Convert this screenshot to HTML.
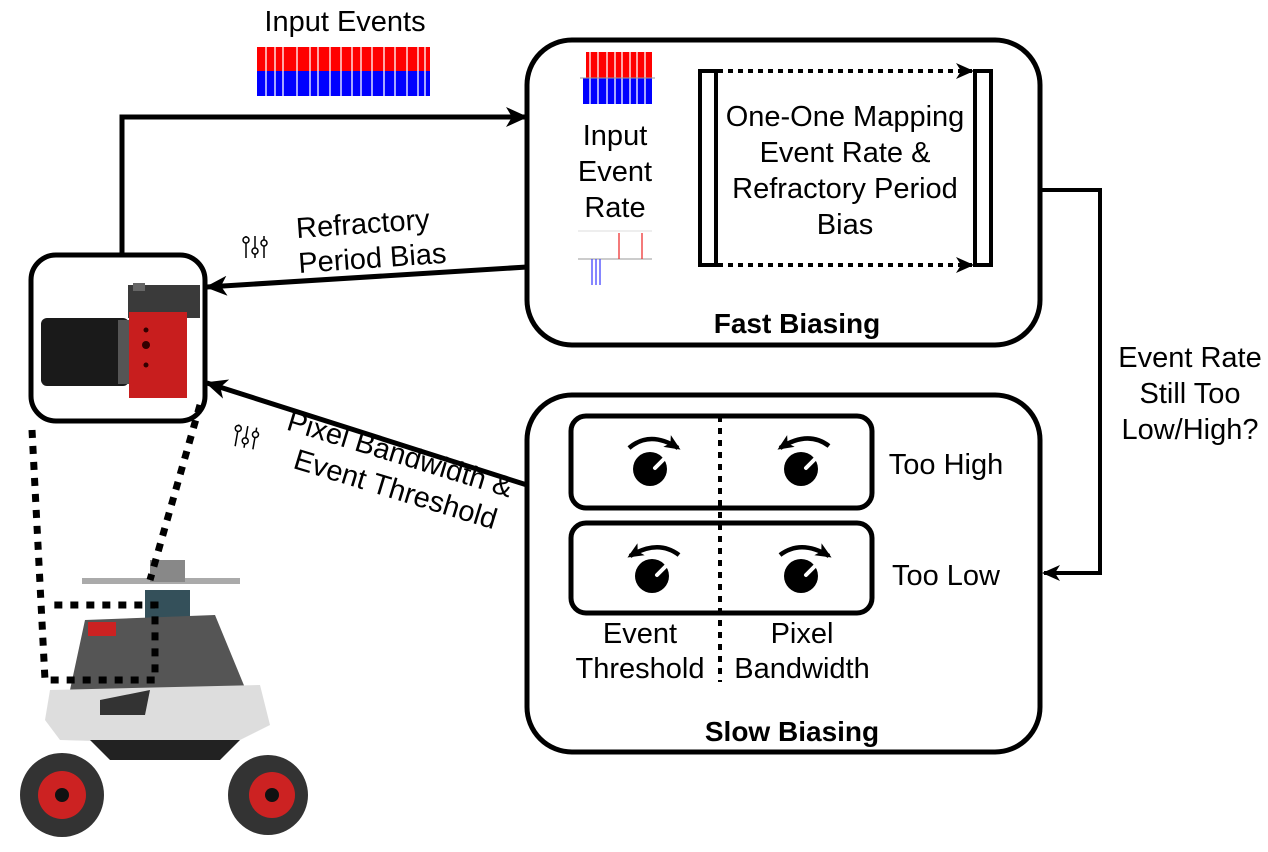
<!DOCTYPE html>
<html><head><meta charset="utf-8"><style>
body{margin:0;background:#fff}
svg text{font-family:"Liberation Sans",sans-serif;fill:#000}
</style></head><body>
<svg width="1268" height="847" viewBox="0 0 1268 847" xmlns="http://www.w3.org/2000/svg">
<defs>
<marker id="ah" markerWidth="16" markerHeight="14" refX="13" refY="7" orient="auto" markerUnits="userSpaceOnUse"><path d="M0,0 L16,7 L0,14 L4,7 Z" fill="#000"/></marker>
<marker id="ab" markerWidth="22" markerHeight="20" refX="20" refY="10" orient="auto" markerUnits="userSpaceOnUse"><path d="M0,0 L22,10 L0,20 L6,10 Z" fill="#000"/></marker>
<marker id="as" markerWidth="18" markerHeight="16" refX="16" refY="8" orient="auto" markerUnits="userSpaceOnUse"><path d="M0,0 L18,8 L0,16 L5,8 Z" fill="#000"/></marker>
</defs>

<text x="345" y="31" font-size="29" text-anchor="middle">Input Events</text>
<g>
<rect x="257" y="47" width="173" height="24" fill="#f00"/>
<rect x="257" y="71" width="173" height="25" fill="#00f"/>
<g stroke="#fff" stroke-width="1.3">
<line x1="266" y1="47" x2="266" y2="96"/><line x1="275" y1="47" x2="275" y2="96"/><line x1="283" y1="47" x2="283" y2="96"/><line x1="297" y1="47" x2="297" y2="96"/><line x1="310" y1="47" x2="310" y2="96"/><line x1="318" y1="47" x2="318" y2="96"/><line x1="330" y1="47" x2="330" y2="96"/><line x1="341" y1="47" x2="341" y2="96"/><line x1="352" y1="47" x2="352" y2="96"/><line x1="361" y1="47" x2="361" y2="96"/><line x1="372" y1="47" x2="372" y2="96"/><line x1="384" y1="47" x2="384" y2="96"/><line x1="395" y1="47" x2="395" y2="96"/><line x1="407" y1="47" x2="407" y2="96"/><line x1="418" y1="47" x2="418" y2="96"/><line x1="425" y1="47" x2="425" y2="96"/>
</g>
</g>

<rect x="527" y="40" width="513" height="305" rx="45" fill="none" stroke="#000" stroke-width="5"/>
<rect x="586" y="52" width="66" height="26" fill="#f00"/>
<rect x="583" y="78" width="69" height="26" fill="#00f"/>
<g stroke="#fff" stroke-width="1.3">
<line x1="590" y1="52" x2="590" y2="104"/><line x1="598" y1="52" x2="598" y2="104"/><line x1="607" y1="52" x2="607" y2="104"/><line x1="615" y1="52" x2="615" y2="104"/><line x1="622" y1="52" x2="622" y2="104"/><line x1="630" y1="52" x2="630" y2="104"/><line x1="637" y1="52" x2="637" y2="104"/><line x1="645" y1="52" x2="645" y2="104"/>
</g>
<line x1="580" y1="78" x2="655" y2="78" stroke="#999" stroke-width="1"/>
<text x="615" y="145" font-size="29" text-anchor="middle">Input</text>
<text x="615" y="181" font-size="29" text-anchor="middle">Event</text>
<text x="615" y="217" font-size="29" text-anchor="middle">Rate</text>
<line x1="578" y1="231" x2="652" y2="231" stroke="#ddd" stroke-width="1"/>
<line x1="578" y1="259" x2="652" y2="259" stroke="#999" stroke-width="1"/>
<g stroke="#e33" stroke-width="1.3"><line x1="619" y1="233" x2="619" y2="259"/><line x1="642" y1="233" x2="642" y2="259"/></g>
<g stroke="#44f" stroke-width="1.3"><line x1="592" y1="259" x2="592" y2="285"/><line x1="596" y1="259" x2="596" y2="285"/><line x1="600" y1="259" x2="600" y2="285"/></g>

<rect x="700" y="71" width="16" height="194" fill="#fff" stroke="#000" stroke-width="4"/>
<rect x="975" y="71" width="16" height="194" fill="#fff" stroke="#000" stroke-width="4"/>
<line x1="718" y1="71" x2="972" y2="71" stroke="#000" stroke-width="4" stroke-dasharray="5,5" marker-end="url(#as)"/>
<line x1="718" y1="265" x2="972" y2="265" stroke="#000" stroke-width="4" stroke-dasharray="5,5" marker-end="url(#as)"/>
<text x="845" y="126" font-size="29" text-anchor="middle">One-One Mapping</text>
<text x="845" y="162" font-size="29" text-anchor="middle">Event Rate &amp;</text>
<text x="845" y="198" font-size="29" text-anchor="middle">Refractory Period</text>
<text x="845" y="234" font-size="29" text-anchor="middle">Bias</text>
<text x="797" y="333" font-size="28" font-weight="bold" text-anchor="middle">Fast Biasing</text>

<rect x="527" y="395" width="513" height="357" rx="45" fill="none" stroke="#000" stroke-width="5"/>
<rect x="571" y="416" width="301" height="92" rx="15" fill="none" stroke="#000" stroke-width="5"/>
<rect x="571" y="523" width="301" height="90" rx="15" fill="none" stroke="#000" stroke-width="5"/>
<line x1="720" y1="416" x2="720" y2="682" stroke="#000" stroke-width="4" stroke-dasharray="6,6"/>
<g fill="#000">
<circle cx="650" cy="469" r="17"/><circle cx="801" cy="469" r="17"/>
<circle cx="652" cy="576" r="17"/><circle cx="801" cy="576" r="17"/>
</g>
<g stroke="#fff" stroke-width="4" stroke-linecap="round">
<line x1="655" y1="468" x2="664" y2="459"/><line x1="806" y1="468" x2="815" y2="459"/>
<line x1="657" y1="575" x2="666" y2="566"/><line x1="806" y1="575" x2="815" y2="566"/>
</g>
<g fill="none" stroke="#000" stroke-width="4.5">
<path d="M629,448 Q650,430 678,448" marker-end="url(#ah)"/>
<path d="M829,446 Q808,430 780,448" marker-end="url(#ah)"/>
<path d="M679,555 Q658,539 630,556" marker-end="url(#ah)"/>
<path d="M780,555 Q801,539 829,556" marker-end="url(#ah)"/>
</g>
<text x="946" y="474" font-size="29" text-anchor="middle">Too High</text>
<text x="946" y="585" font-size="29" text-anchor="middle">Too Low</text>
<text x="640" y="643" font-size="29" text-anchor="middle">Event</text>
<text x="640" y="678" font-size="29" text-anchor="middle">Threshold</text>
<text x="802" y="643" font-size="29" text-anchor="middle">Pixel</text>
<text x="802" y="678" font-size="29" text-anchor="middle">Bandwidth</text>
<text x="792" y="741" font-size="28" font-weight="bold" text-anchor="middle">Slow Biasing</text>

<polyline points="1040,190 1100,190 1100,573 1044,573" fill="none" stroke="#000" stroke-width="4" marker-end="url(#as)"/>
<text x="1190" y="367" font-size="29" text-anchor="middle">Event Rate</text>
<text x="1190" y="403" font-size="29" text-anchor="middle">Still Too</text>
<text x="1190" y="439" font-size="29" text-anchor="middle">Low/High?</text>

<polyline points="122,255 122,117 526,117" fill="none" stroke="#000" stroke-width="5" marker-end="url(#ab)"/>
<line x1="527" y1="267" x2="207" y2="287" stroke="#000" stroke-width="5" marker-end="url(#ab)"/>
<line x1="527" y1="485" x2="207" y2="383" stroke="#000" stroke-width="5" marker-end="url(#ab)"/>
<g transform="rotate(-4 370 240)">
<text x="364" y="233" font-size="29" text-anchor="middle">Refractory</text>
<text x="371" y="268" font-size="29" text-anchor="middle">Period Bias</text>
</g>
<g transform="rotate(17 390 480)">
<text x="392" y="462" font-size="29" text-anchor="middle">Pixel Bandwidth &amp;</text>
<text x="398" y="497" font-size="29" text-anchor="middle">Event Threshold</text>
</g>
<g stroke="#000" stroke-width="1.5" fill="#fff">
<g transform="translate(243,236)"><line x1="3" y1="0" x2="3" y2="22"/><circle cx="3" cy="4" r="3"/><line x1="12" y1="0" x2="12" y2="22"/><circle cx="12" cy="15" r="3"/><line x1="21" y1="0" x2="21" y2="22"/><circle cx="21" cy="7" r="3"/></g>
<g transform="translate(236,424) rotate(10)"><line x1="3" y1="0" x2="3" y2="22"/><circle cx="3" cy="4" r="3"/><line x1="12" y1="0" x2="12" y2="22"/><circle cx="12" cy="15" r="3"/><line x1="21" y1="0" x2="21" y2="22"/><circle cx="21" cy="7" r="3"/></g>
</g>

<rect x="31" y="255" width="174" height="166" rx="25" fill="#fff" stroke="#000" stroke-width="5"/>
<rect x="128" y="285" width="72" height="33" fill="#3a3a3a"/>
<rect x="133" y="283" width="12" height="8" fill="#666"/>
<rect x="41" y="318" width="88" height="68" rx="6" fill="#1a1a1a"/>
<rect x="118" y="320" width="12" height="64" fill="#555"/>
<rect x="129" y="312" width="58" height="86" fill="#c81e1e"/>
<circle cx="146" cy="345" r="4" fill="#300"/><circle cx="146" cy="365" r="2.5" fill="#300"/><circle cx="146" cy="330" r="2.5" fill="#300"/>

<g>
<rect x="82" y="578" width="158" height="6" fill="#aaa"/>
<rect x="150" y="560" width="35" height="22" fill="#888"/>
<rect x="145" y="590" width="45" height="30" fill="#34505a"/>
<polygon points="85,620 215,615 250,700 70,690" fill="#555"/>
<rect x="88" y="622" width="28" height="14" fill="#c22"/>
<polygon points="50,690 260,685 270,725 230,745 60,740 45,720" fill="#ddd"/>
<polygon points="100,700 150,690 145,715 100,715" fill="#333"/>
<polygon points="90,740 240,740 220,760 110,760" fill="#222"/>
<circle cx="62" cy="795" r="42" fill="#333"/><circle cx="62" cy="795" r="24" fill="#c22"/><circle cx="62" cy="795" r="7" fill="#111"/>
<circle cx="268" cy="795" r="40" fill="#333"/><circle cx="272" cy="795" r="23" fill="#c22"/><circle cx="272" cy="795" r="7" fill="#111"/>
</g>
<g fill="none" stroke="#000" stroke-width="7" stroke-dasharray="8,8">
<polyline points="32,430 45,680 155,680 155,605 50,605"/>
<line x1="200" y1="405" x2="150" y2="580"/>
</g>
</svg>
</body></html>
